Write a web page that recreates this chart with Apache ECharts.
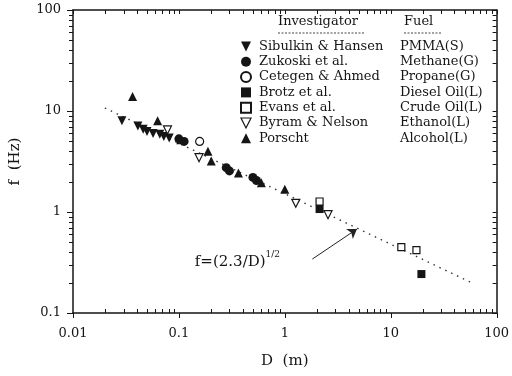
<!DOCTYPE html>
<html>
<head>
<meta charset="utf-8">
<script src="https://cdn.jsdelivr.net/npm/echarts@6/dist/echarts.min.js"></script>
<style>
  html, body { margin: 0; padding: 0; background: #fff; }
  #chart { width: 512px; height: 376px; }
</style>
</head>
<body>
<div id="chart"></div>
<script>
// Pool-fire puffing frequency f versus pool diameter D (log-log)
const xTickLabels = ['0.01', '0.1', '1', '10', '100'];
const yTickLabels = ['0.1', '1', '10', '100'];

const investigators = ['Sibulkin & Hansen', 'Zukoski et al.', 'Cetegen & Ahmed', 'Brotz et al.', 'Evans et al.', 'Byram & Nelson', 'Porscht'];
const fuels = ['PMMA(S)', 'Methane(G)', 'Propane(G)', 'Diesel Oil(L)', 'Crude Oil(L)', 'Ethanol(L)', 'Alcohol(L)'];

const sibulkinD = [0.029, 0.041, 0.046, 0.050, 0.057, 0.066, 0.072, 0.081];
const sibulkinF = [8.0, 7.1, 6.6, 6.25, 6.0, 5.9, 5.6, 5.4];
const zukoskiD = [0.100, 0.112, 0.28, 0.30, 0.50, 0.54];
const zukoskiF = [5.3, 5.0, 2.75, 2.55, 2.2, 2.05];
const cetegenD = [0.157];
const cetegenF = [5.0];
const brotzD = [2.13, 19.5];
const brotzF = [1.07, 0.243];
const evansD = [2.13, 12.6, 17.5];
const evansF = [1.27, 0.45, 0.42];
const byramD = [0.078, 0.155, 1.27, 2.56];
const byramF = [6.5, 3.45, 1.22, 0.94];
const porschtD = [0.0365, 0.063, 0.104, 0.188, 0.202, 0.365, 0.60, 1.0];
const porschtF = [13.9, 8.0, 5.2, 4.0, 3.2, 2.43, 1.95, 1.68];

// Correlation f = (2.3/D)^(1/2), end points of the dotted line
const fitD = [0.02, 62];
const fitF = [10.7, 0.193];
// Arrow from the formula to the line
const arrowD = [1.82, 4.8];
const arrowF = [0.342, 0.678];
const formulaAt = [0.357, 0.336];

const INK = '#151515';
const SERIF = '"DejaVu Serif", "Liberation Serif", serif';
const X_RANGE = [0.01, 100];
const Y_RANGE = [0.1, 100];
const GRID = { left: 72, right: 13, top: 10, bottom: 63 };
const DOWN_TRIANGLE = 'path://M0,0 L10,0 L5,10 Z';

const zip = (a, b) => a.map((v, i) => [v, b[i]]);

// 1..9 × 10^e tick positions of a log axis
function logTicks(lo, hi) {
  const out = [];
  for (let e = lo; e < hi; e++) {
    for (let m = 1; m <= 9; m++) out.push(+(m * Math.pow(10, e)).toPrecision(3));
  }
  out.push(Math.pow(10, hi));
  return out;
}
const xTicks = logTicks(-2, 2);
const yTicks = logTicks(-1, 2);
const isDecade = v => Math.abs(Math.log10(v) - Math.round(Math.log10(v))) < 1e-6;

function labelFor(list) {
  return v => {
    const hit = list.find(s => Math.abs(Math.log10(parseFloat(s)) - Math.log10(v)) < 1e-6);
    return hit || '';
  };
}

const filled = { color: INK, opacity: 1 };
const hollow = { color: '#fff', borderColor: INK, borderWidth: 1.2, opacity: 1 };

const groups = [
  { d: sibulkinD, f: sibulkinF, symbol: 'triangle', rotate: 180, size: 9, style: filled },
  { d: zukoskiD, f: zukoskiF, symbol: 'circle', rotate: 0, size: 9, style: filled },
  { d: cetegenD, f: cetegenF, symbol: 'circle', rotate: 0, size: 8, style: hollow },
  { d: brotzD, f: brotzF, symbol: 'rect', rotate: 0, size: 8, style: filled },
  { d: evansD, f: evansF, symbol: 'rect', rotate: 0, size: 7, style: hollow },
  { d: byramD, f: byramF, symbol: 'triangle', rotate: 180, size: 8, style: hollow },
  { d: porschtD, f: porschtF, symbol: 'triangle', rotate: 0, size: 9, style: filled }
];

const scatterSeries = groups.map((g, i) => ({
  name: investigators[i],
  type: 'scatter',
  symbol: g.symbol,
  symbolRotate: g.rotate,
  symbolSize: g.size,
  itemStyle: g.style,
  emphasis: { disabled: true },
  data: zip(g.d, g.f),
  z: 5
}));

const headerGraphics = [
  { type: 'text', left: 278, top: 15, silent: true, style: { text: 'Investigator', font: '13px ' + SERIF, fill: INK } },
  { type: 'text', left: 404, top: 15, silent: true, style: { text: 'Fuel', font: '13px ' + SERIF, fill: INK } },
  { type: 'line', silent: true, shape: { x1: 278, y1: 33, x2: 364, y2: 33 }, style: { stroke: INK, lineWidth: 0.8, lineDash: [2, 1.5] } },
  { type: 'line', silent: true, shape: { x1: 404, y1: 33, x2: 442, y2: 33 }, style: { stroke: INK, lineWidth: 0.8, lineDash: [2, 1.5] } }
];

const chart = echarts.init(document.getElementById('chart'), null, { renderer: 'canvas' });

const axisLine = { show: true, lineStyle: { color: INK, width: 1.5 } };

chart.setOption({
  backgroundColor: '#fff',
  animation: false,
  grid: { ...GRID, containLabel: false },
  xAxis: [
    {
      type: 'log', logBase: 10, min: X_RANGE[0], max: X_RANGE[1], position: 'bottom',
      axisLine,
      axisTick: { show: false },
      axisLabel: { color: INK, fontFamily: SERIF, fontSize: 13, margin: 14, formatter: labelFor(xTickLabels) },
      splitLine: { show: false },
      name: 'D  (m)', nameLocation: 'middle', nameGap: 41,
      nameTextStyle: { color: INK, fontFamily: SERIF, fontSize: 15 }
    },
    {
      type: 'log', logBase: 10, min: X_RANGE[0], max: X_RANGE[1], position: 'top',
      axisLine, axisTick: { show: false }, axisLabel: { show: false }, splitLine: { show: false }
    }
  ],
  yAxis: [
    {
      type: 'log', logBase: 10, min: Y_RANGE[0], max: Y_RANGE[1], position: 'left',
      axisLine,
      axisTick: { show: false },
      axisLabel: { color: INK, fontFamily: SERIF, fontSize: 13, margin: 12, formatter: labelFor(yTickLabels) },
      splitLine: { show: false },
      name: 'f  (Hz)', nameLocation: 'middle', nameGap: 50, nameRotate: 90,
      nameTextStyle: { color: INK, fontFamily: SERIF, fontSize: 15 }
    },
    {
      type: 'log', logBase: 10, min: Y_RANGE[0], max: Y_RANGE[1], position: 'right',
      axisLine, axisTick: { show: false }, axisLabel: { show: false }, splitLine: { show: false }
    }
  ],
  legend: {
    orient: 'vertical',
    left: 235, top: 35,
    itemWidth: 10, itemHeight: 10, itemGap: 2.3,
    selectedMode: false,
    data: investigators.map((name, i) => (groups[i].rotate === 180
      ? { name, icon: DOWN_TRIANGLE, itemStyle: { ...groups[i].style } }
      : { name })),
    formatter: name => `{n|${name}}{f|${fuels[investigators.indexOf(name)]}}`,
    textStyle: {
      color: INK, fontFamily: SERIF, fontSize: 13,
      rich: {
        n: { width: 141, fontFamily: SERIF, fontSize: 13, lineHeight: 16, color: INK, padding: [0, 0, 0, 3] },
        f: { fontFamily: SERIF, fontSize: 13, lineHeight: 16, color: INK }
      }
    }
  },
  graphic: headerGraphics,
  series: [
    {
      id: 'fit',
      name: 'fit',
      type: 'line',
      data: zip(fitD, fitF),
      symbol: 'none',
      lineStyle: { color: '#333', width: 1.4, type: [1.5, 5] },
      silent: true,
      z: 2,
      markLine: {
        silent: true,
        symbol: ['none', 'arrow'],
        symbolSize: 9,
        label: { show: false },
        emphasis: { disabled: true },
        lineStyle: { color: '#222', width: 1, type: 'solid', curveness: 0 },
        data: [[{ coord: [arrowD[0], arrowF[0]] }, { coord: [arrowD[1], arrowF[1]] }]]
      },
      markPoint: {
        silent: true,
        symbol: 'circle', symbolSize: 0,
        label: {
          show: true,
          formatter: '{a|f=(2.3/D)}{s|1/2}',
          rich: {
            a: { fontFamily: SERIF, fontSize: 15, color: INK, lineHeight: 20, verticalAlign: 'bottom' },
            s: { fontFamily: SERIF, fontSize: 9, color: INK, lineHeight: 20, verticalAlign: 'top' }
          }
        },
        data: [{ coord: formulaAt }]
      }
    },
    ...scatterSeries
  ]
});

// Pixel position of a value on the laid-out log axes, falling back to the grid
// geometry if the conversion is unavailable.
function logPos(v, range, a, b) {
  return a + (Math.log10(v) - Math.log10(range[0])) / (Math.log10(range[1]) - Math.log10(range[0])) * (b - a);
}
function xPx(v) {
  let p;
  try { p = chart.convertToPixel({ xAxisIndex: 0 }, v); } catch (e) { p = NaN; }
  if (Array.isArray(p)) p = p[0];
  return Number.isFinite(p) ? p : logPos(v, X_RANGE, GRID.left, chart.getWidth() - GRID.right);
}
function yPx(v) {
  let p;
  try { p = chart.convertToPixel({ yAxisIndex: 0 }, v); } catch (e) { p = NaN; }
  if (Array.isArray(p)) p = p[1];
  return Number.isFinite(p) ? p : logPos(v, Y_RANGE, chart.getHeight() - GRID.bottom, GRID.top);
}

// Frame ticks: D ticks inward on top and bottom (decades outward at the bottom),
// f ticks outward on the left (decades longer) and inward on the right.
const tickGraphics = [];
const tick = (x1, y1, x2, y2) => tickGraphics.push({
  type: 'line', silent: true, z: 10,
  shape: { x1, y1, x2, y2 },
  style: { stroke: INK, lineWidth: 1 }
});
const yBottom = yPx(Y_RANGE[0]);
const yTop = yPx(Y_RANGE[1]);
const xLeft = xPx(X_RANGE[0]);
const xRight = xPx(X_RANGE[1]);
xTicks.forEach(v => {
  const x = Math.round(xPx(v)) + 0.5;
  if (isDecade(v)) tick(x, yBottom, x, yBottom + 5);
  else tick(x, yBottom, x, yBottom - 4);
  tick(x, yTop, x, yTop + 4);
});
yTicks.forEach(v => {
  const y = Math.round(yPx(v)) + 0.5;
  tick(xLeft, y, xLeft - (isDecade(v) ? 6 : 4), y);
  tick(xRight, y, xRight - 4, y);
});

chart.setOption({ graphic: [...headerGraphics, ...tickGraphics] });
</script>
</body>
</html>
